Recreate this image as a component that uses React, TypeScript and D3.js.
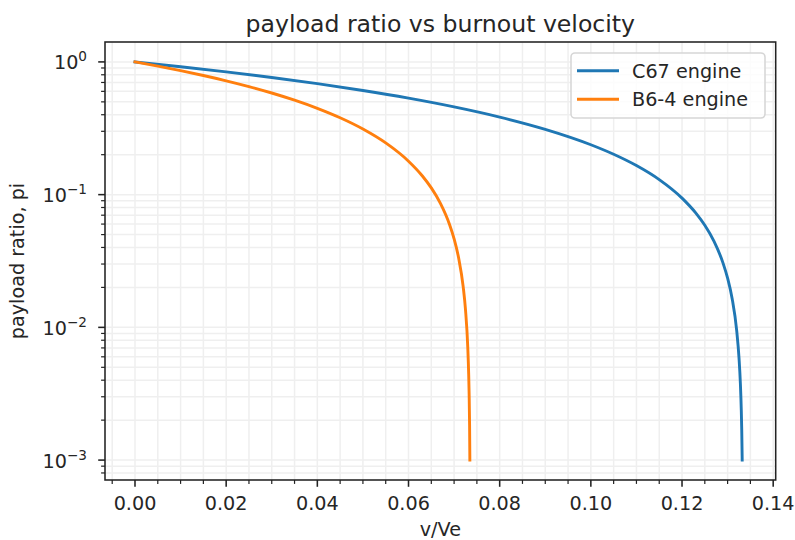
import React, { useEffect, useRef } from 'react';
import * as d3 from 'd3';

// values (v/Ve, payload ratio)
const c67X = [0, 0.01, 0.02, 0.03, 0.04, 0.05, 0.06, 0.07, 0.08, 0.09, 0.1, 0.105, 0.11, 0.115, 0.12, 0.123, 0.125, 0.127, 0.129, 0.13, 0.131, 0.132, 0.1325, 0.1328, 0.133, 0.1331, 0.1332];
const c67Y = [1, 0.9203, 0.8414, 0.7633, 0.6859, 0.6093, 0.5335, 0.4584, 0.3841, 0.3105, 0.2377, 0.2015, 0.1656, 0.1298, 0.09415, 0.07287, 0.05872, 0.0446, 0.0305, 0.02346, 0.01643, 0.009405, 0.005896, 0.003789, 0.002387, 0.001682, 0.001];
const b64X = [0, 0.005, 0.01, 0.015, 0.02, 0.025, 0.03, 0.035, 0.04, 0.045, 0.05, 0.055, 0.06, 0.063, 0.065, 0.067, 0.069, 0.07, 0.071, 0.072, 0.0725, 0.073, 0.0732, 0.0733, 0.0734, 0.07346];
const b64Y = [1, 0.9296, 0.8597, 0.79, 0.7207, 0.6518, 0.5832, 0.5149, 0.447, 0.3794, 0.3121, 0.2452, 0.1786, 0.1388, 0.1124, 0.08597, 0.05962, 0.04646, 0.03331, 0.02018, 0.01362, 0.007066, 0.004443, 0.003131, 0.00182, 0.001];

const seriesNames = ['C67 engine', 'B6-4 engine'];
const seriesColors = ['#1f77b4', '#ff7f0e'];
const xTicks = [0, 0.02, 0.04, 0.06, 0.08, 0.1, 0.12, 0.14];
const yTickExp = [0, -1, -2, -3];

const W = 795;
const H = 540;
const FONT = 'DejaVu Sans, sans-serif';

const App = () => {
  const svgRef = useRef<SVGSVGElement | null>(null);

  useEffect(() => {
    const svg = d3.select(svgRef.current);
    svg.selectAll('*').remove();

    const left = 105, right = 775.7, top = 42, bottom = 480;

    const x = d3.scaleLinear().domain([-0.00658, 0.14055]).range([left, right]);
    const y = d3.scaleLog().domain([Math.pow(10, -3.15), Math.pow(10, 0.15)]).range([bottom, top]);

    const xMinor = d3.range(-0.005, 0.1401, 0.005).filter(v => Math.abs(Math.round(v / 0.02) * 0.02 - v) > 1e-6);
    const yMinor: number[] = [];
    [-4, -3, -2, -1, 0].forEach(e => {
      for (let m = 2; m <= 9; m++) {
        const v = m * Math.pow(10, e);
        if (v >= y.domain()[0] && v <= y.domain()[1]) yMinor.push(v);
      }
    });
    const yMajor = yTickExp.map(e => Math.pow(10, e));

    // grid (both)
    const grid = svg.append('g');
    [...xMinor, ...xTicks].forEach(v => {
      grid.append('line')
        .attr('x1', x(v)).attr('x2', x(v)).attr('y1', top).attr('y2', bottom)
        .attr('stroke', '#efefef').attr('stroke-width', 1.5);
    });
    [...yMinor, ...yMajor].forEach(v => {
      grid.append('line')
        .attr('x1', left).attr('x2', right).attr('y1', y(v)).attr('y2', y(v))
        .attr('stroke', '#efefef').attr('stroke-width', 1.5);
    });

    // lines
    const line = d3.line<[number, number]>()
      .x(d => x(d[0]))
      .y(d => y(d[1]))
      .curve(d3.curveMonotoneX);

    const series = [
      c67X.map((v, i) => [v, c67Y[i]] as [number, number]),
      b64X.map((v, i) => [v, b64Y[i]] as [number, number]),
    ];
    series.forEach((s, i) => {
      svg.append('path')
        .attr('d', line(s))
        .attr('fill', 'none')
        .attr('stroke', seriesColors[i])
        .attr('stroke-width', 2.9)
        .attr('stroke-linecap', 'square');
    });

    // spines
    svg.append('rect')
      .attr('x', left).attr('y', top)
      .attr('width', right - left).attr('height', bottom - top)
      .attr('fill', 'none').attr('stroke', '#222').attr('stroke-width', 1.55);

    // x ticks
    const gx = svg.append('g');
    xTicks.forEach(v => {
      gx.append('line').attr('x1', x(v)).attr('x2', x(v)).attr('y1', bottom).attr('y2', bottom + 6.8)
        .attr('stroke', '#222').attr('stroke-width', 1.55);
      gx.append('text').attr('x', x(v)).attr('y', bottom + 29.5)
        .attr('text-anchor', 'middle').attr('font-family', FONT).attr('font-size', 19.2)
        .attr('fill', '#262626').text(d3.format('.2f')(v));
    });
    xMinor.forEach(v => {
      gx.append('line').attr('x1', x(v)).attr('x2', x(v)).attr('y1', bottom).attr('y2', bottom + 3.9)
        .attr('stroke', '#222').attr('stroke-width', 1.2);
    });

    // y ticks
    const gy = svg.append('g');
    yTickExp.forEach(e => {
      const v = Math.pow(10, e);
      gy.append('line').attr('x1', left - 6.8).attr('x2', left).attr('y1', y(v)).attr('y2', y(v))
        .attr('stroke', '#222').attr('stroke-width', 1.55);
      const t = gy.append('text')
        .attr('x', left - 18).attr('y', y(v) + 7.5)
        .attr('text-anchor', 'end').attr('font-family', FONT).attr('font-size', 19.2)
        .attr('fill', '#262626');
      t.append('tspan').text('10');
      t.append('tspan').attr('dy', -8).attr('font-size', 13.6)
        .text(e === 0 ? '0' : '\u2212' + Math.abs(e));
    });
    yMinor.forEach(v => {
      gy.append('line').attr('x1', left - 3.9).attr('x2', left).attr('y1', y(v)).attr('y2', y(v))
        .attr('stroke', '#222').attr('stroke-width', 1.2);
    });

    // labels
    svg.append('text').attr('x', (left + right) / 2).attr('y', 31.5)
      .attr('text-anchor', 'middle').attr('font-family', FONT).attr('font-size', 23.6)
      .attr('fill', '#262626').text('payload ratio vs burnout velocity');
    svg.append('text').attr('x', (left + right) / 2).attr('y', 535.5)
      .attr('text-anchor', 'middle').attr('font-family', FONT).attr('font-size', 19.2)
      .attr('fill', '#262626').text('v/Ve');
    svg.append('text')
      .attr('transform', `translate(24,${(top + bottom) / 2}) rotate(-90)`)
      .attr('text-anchor', 'middle').attr('font-family', FONT).attr('font-size', 19.2)
      .attr('fill', '#262626').text('payload ratio, pi');

    // legend
    const lg = svg.append('g');
    lg.append('rect')
      .attr('x', 571).attr('y', 53).attr('width', 194).attr('height', 65).attr('rx', 4)
      .attr('fill', 'white').attr('fill-opacity', 0.8)
      .attr('stroke', '#d6d6d6').attr('stroke-width', 1.55);
    seriesNames.forEach((name, i) => {
      const cy = 70.7 + i * 28.6;
      lg.append('line').attr('x1', 577).attr('x2', 619).attr('y1', cy).attr('y2', cy)
        .attr('stroke', seriesColors[i]).attr('stroke-width', 2.9);
      lg.append('text').attr('x', 632).attr('y', cy + 7)
        .attr('font-family', FONT).attr('font-size', 19.2).attr('fill', '#262626').text(name);
    });
  }, []);

  return (
    <svg ref={svgRef} width={W} height={H} style={{ position: 'absolute', left: 0, top: 0, background: 'white' }} />
  );
};

export default App;
